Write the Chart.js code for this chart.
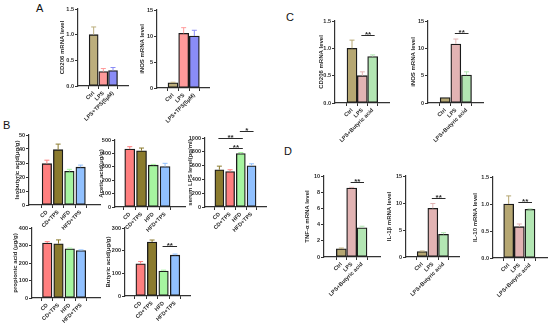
<!DOCTYPE html>
<html>
<head>
<meta charset="utf-8">
<script src="https://cdn.jsdelivr.net/npm/chart.js@4/dist/chart.umd.min.js"></script>
<style>
  html, body { margin: 0; padding: 0; background: #fff; }
  #stage { position: relative; width: 550px; height: 327px; overflow: hidden; background: #fff; }
  .tag { position: absolute; font: 11px/1 'Liberation Sans', Arial, sans-serif; color: #111; }
</style>
</head>
<body>
<div id="stage">
  <div class="tag" style="left:36px;top:3px">A</div>
  <div class="tag" style="left:3px;top:120px">B</div>
  <div class="tag" style="left:286px;top:12px">C</div>
  <div class="tag" style="left:284px;top:146px">D</div>
</div>
<script>
/* ---- categories ------------------------------------------------ */
const catsTps  = ['Ctrl', 'LPS', 'LPS+TPS(5μM)'];
const catsButy = ['Ctrl', 'LPS', 'LPS+Butyric acid'];
const catsDiet = ['CD', 'CD+TPS', 'HFD', 'HFD+TPS'];

/* ---- A: macrophage markers with TPS ---------------------------- */
const aCd206    = [1.0, 0.28, 0.30];
const aCd206Err = [1.15, 0.34, 0.36];
const aInos     = [1.0, 10.5, 10.0];
const aInosErr  = [1.1, 11.6, 11.1];

/* ---- B: faecal SCFA / serum LPS -------------------------------- */
const bIso      = [29.5, 39.5, 24, 27];
const bIsoErr   = [32, 43.5, 25.5, 28.5];
const bAcetic   = [432, 420, 312, 302];
const bAceticErr= [450, 440, 318, 326];
const bLps      = [540, 515, 775, 598];
const bLpsErr   = [592, 540, 790, 626];
const bProp     = [314, 310, 281, 271];
const bPropErr  = [322, 332, 285, 275];
const bButy     = [142, 238, 110, 180];
const bButyErr  = [152, 247, 114, 185];

/* ---- C: markers with butyric acid ------------------------------ */
const cCd206    = [1.0, 0.50, 0.85];
const cCd206Err = [1.15, 0.57, 0.88];
const cInos     = [1.0, 10.8, 5.1];
const cInosErr  = [1.05, 11.7, 5.7];

/* ---- D: cytokines with butyric acid ---------------------------- */
const dTnf      = [1.0, 8.5, 3.6];
const dTnfErr   = [1.1, 8.6, 3.8];
const dIl1      = [1.0, 9.0, 4.2];
const dIl1Err   = [1.1, 9.9, 4.5];
const dIl10     = [1.0, 0.58, 0.90];
const dIl10Err  = [1.15, 0.63, 0.91];

/* ---- significance marks: [from, to, level, text] --------------- */
const sigCCd206 = [[1, 2, 1.25, '**']];
const sigCInos  = [[1, 2, 12.8, '**']];
const sigBLps   = [[0, 2, 1000, '**'], [1, 2, 855, '**'], [2, 3, 1100, '*']];
const sigBButy  = [[2, 3, 220, '**']];
const sigDTnf   = [[1, 2, 9.3, '**']];
const sigDIl1   = [[1, 2, 10.9, '**']];
const sigDIl10  = [[1, 2, 1.04, '**']];

/* ---- palettes --------------------------------------------------- */
const colTps  = ['#bcae7c', '#ff9a9a', '#8a8cf6'];
const colButy = ['#b6a772', '#e2b3b3', '#b3e6b3'];
const colDiet = ['#ff7f7f', '#8b7b2e', '#a6f5a0', '#91c1ff'];
const colLps  = ['#8b7b2e', '#ff7f7f', '#a6f5a0', '#91c1ff'];

const FONT = "'Liberation Sans', Arial, sans-serif";
const INK  = '#2a2a2a';
const L = 36, T = 18, R = 6, B = 62;   // canvas margins round the plot box

const stage = document.getElementById('stage');

/* error bars + significance lines ---------------------------------- */
function marks(p) {
  return {
    id: 'marks',
    afterDatasetsDraw(chart) {
      const { ctx, scales: { x, y } } = chart;
      const bars = chart.getDatasetMeta(0).data;
      ctx.save();
      ctx.lineWidth = 1;
      p.err.forEach((e, i) => {
        const b = bars[i], ye = y.getPixelForValue(e);
        if (ye >= b.y - 0.5) return;
        ctx.strokeStyle = p.colors[i];
        ctx.beginPath();
        ctx.moveTo(b.x, b.y); ctx.lineTo(b.x, ye);
        ctx.moveTo(b.x - 2.5, ye); ctx.lineTo(b.x + 2.5, ye);
        ctx.stroke();
      });
      ctx.strokeStyle = INK; ctx.fillStyle = INK;
      ctx.font = `bold 8px ${FONT}`;
      ctx.textAlign = 'center'; ctx.textBaseline = 'alphabetic';
      (p.sig || []).forEach(([a, b2, lv, t]) => {
        const x1 = x.getPixelForValue(a) - 1, x2 = x.getPixelForValue(b2) + 2;
        const yy = Math.round(y.getPixelForValue(lv)) + 0.5;
        ctx.beginPath(); ctx.moveTo(x1, yy); ctx.lineTo(x2, yy); ctx.stroke();
        ctx.fillText(t, (x1 + x2) / 2, yy + 1.5);
      });
      ctx.restore();
    }
  };
}

function panel(p) {
  const w = L + (p.ax2 - p.ax) + R, h = T + (p.yb - p.yt) + B;
  const cv = document.createElement('canvas');
  cv.width = w; cv.height = h;
  cv.style.cssText = `position:absolute;left:${p.ax - L}px;top:${p.yt - T}px;width:${w}px;height:${h}px`;
  stage.appendChild(cv);

  const axisGrid = { drawOnChartArea: false, tickLength: 3, color: '#333', lineWidth: 1 };
  const axisLine = { color: '#333', width: 1.2 };

  new Chart(cv, {
    type: 'bar',
    data: {
      datasets: [{
        data: p.vals.map((v, i) => ({ x: i, y: v })),
        backgroundColor: p.colors,
        borderColor: '#1b1b1b',
        borderWidth: 1.3,
        borderSkipped: false,
        barThickness: p.bw
      }]
    },
    options: {
      responsive: false, animation: false, devicePixelRatio: 1,
      layout: { padding: { top: T, right: R, left: 0, bottom: 0 } },
      plugins: { legend: { display: false }, tooltip: { enabled: false } },
      scales: {
        x: {
          type: 'linear',
          min: (p.ax - p.c0) / p.step,
          max: (p.ax2 - p.c0) / p.step,
          afterBuildTicks: s => { s.ticks = p.cats.map((_, i) => ({ value: i })); },
          afterFit: s => { s.height = B; },
          grid: axisGrid, border: axisLine,
          ticks: {
            autoSkip: false, minRotation: 45, maxRotation: 45, padding: 1,
            color: INK, font: { family: FONT, size: 5.5, weight: 'bold' },
            callback: (v, i) => p.cats[i]
          }
        },
        y: {
          min: 0, max: p.ymax,
          afterFit: s => { s.width = L; },
          grid: axisGrid, border: axisLine,
          ticks: {
            stepSize: p.ystep, padding: 1,
            color: INK, font: { family: FONT, size: 5.5, weight: 'bold' },
            callback: v => v.toFixed(p.dec || 0)
          },
          title: {
            display: true, text: p.title, color: INK,
            font: { family: FONT, size: 6, weight: 'bold' },
            padding: { top: L - p.toff - 3.6, bottom: 0 }
          }
        }
      }
    },
    plugins: [marks(p)]
  });
}

/* ---- panel A ---- */
panel({ title: 'CD206 mRNA level', cats: catsTps, vals: aCd206, err: aCd206Err, colors: colTps,
        ymax: 1.5, ystep: 0.5, dec: 1, ax: 78, ax2: 128, yt: 9, yb: 86, c0: 89, step: 14.5, bw: 9, toff: 16 });
panel({ title: 'iNOS mRNA level', cats: catsTps, vals: aInos, err: aInosErr, colors: colTps,
        ymax: 15, ystep: 5, ax: 157, ax2: 209, yt: 10, yb: 88, c0: 168, step: 16, bw: 10, toff: 15 });

/* ---- panel B ---- */
panel({ title: 'Isobutyric acid(μg/g)', cats: catsDiet, vals: bIso, err: bIsoErr, colors: colDiet,
        ymax: 50, ystep: 10, ax: 29, ax2: 100, yt: 135, yb: 205, c0: 41, step: 15, bw: 9.5, toff: 12 });
panel({ title: 'Acetic acid(μg/g)', cats: catsDiet, vals: bAcetic, err: bAceticErr, colors: colDiet,
        ymax: 500, ystep: 100, ax: 115, ax2: 185, yt: 140, yb: 207, c0: 123, step: 15.7, bw: 10, toff: 14 });
panel({ title: 'serum LPS level(pg/ml)', cats: catsDiet, vals: bLps, err: bLpsErr, colors: colLps, sig: sigBLps,
        ymax: 1000, ystep: 200, ax: 205, ax2: 266, yt: 138, yb: 207, c0: 214, step: 14.3, bw: 9, toff: 15 });
panel({ title: 'propionic acid (μg/g)', cats: catsDiet, vals: bProp, err: bPropErr, colors: colDiet,
        ymax: 400, ystep: 100, ax: 32, ax2: 100, yt: 228, yb: 298, c0: 41, step: 15, bw: 9.5, toff: 17 });
panel({ title: 'Butyric acid(μg/g)', cats: catsDiet, vals: bButy, err: bButyErr, colors: colDiet, sig: sigBButy,
        ymax: 300, ystep: 100, ax: 125, ax2: 190, yt: 228, yb: 296, c0: 135, step: 15.3, bw: 9.5, toff: 17 });

/* ---- panel C ---- */
panel({ title: 'CD206 mRNA level', cats: catsButy, vals: cCd206, err: cCd206Err, colors: colButy, sig: sigCCd206,
        ymax: 1.5, ystep: 0.5, dec: 1, ax: 335, ax2: 389, yt: 21, yb: 103, c0: 347, step: 15.5, bw: 10, toff: 14 });
panel({ title: 'iNOS mRNA level', cats: catsButy, vals: cInos, err: cInosErr, colors: colButy, sig: sigCInos,
        ymax: 15, ystep: 5, ax: 428, ax2: 483, yt: 21, yb: 103, c0: 440, step: 16, bw: 10, toff: 15 });

/* ---- panel D ---- */
panel({ title: 'TNF-α mRNA level', cats: catsButy, vals: dTnf, err: dTnfErr, colors: colButy, sig: sigDTnf,
        ymax: 10, ystep: 2, ax: 324, ax2: 380, yt: 176, yb: 257, c0: 336, step: 15.5, bw: 10, toff: 17 });
panel({ title: 'IL-1β mRNA level', cats: catsButy, vals: dIl1, err: dIl1Err, colors: colButy, sig: sigDIl1,
        ymax: 15, ystep: 5, ax: 406, ax2: 459, yt: 176, yb: 257, c0: 417, step: 16, bw: 10, toff: 17 });
panel({ title: 'IL-10 mRNA level', cats: catsButy, vals: dIl10, err: dIl10Err, colors: colButy, sig: sigDIl10,
        ymax: 1.5, ystep: 0.5, dec: 1, ax: 493, ax2: 547, yt: 177, yb: 258, c0: 503, step: 16, bw: 10, toff: 18 });
</script>
</body>
</html>
